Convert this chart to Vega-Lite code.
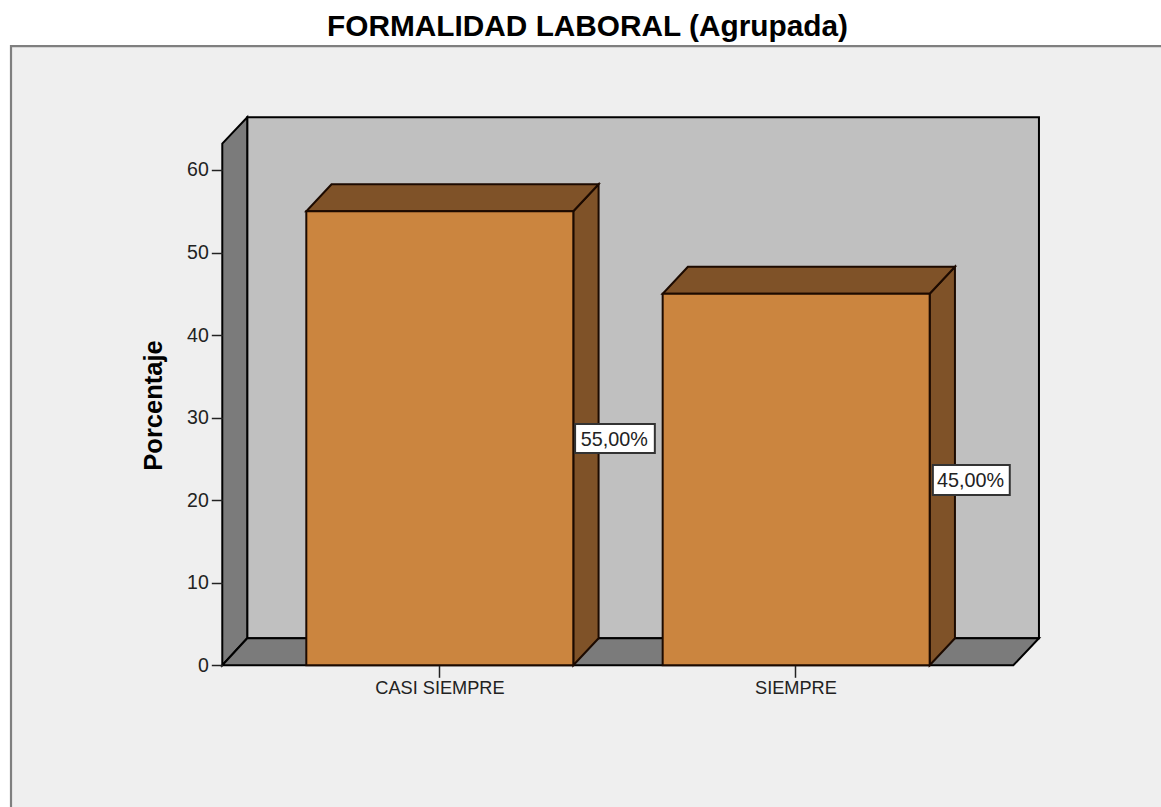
{
"$schema":"https://vega.github.io/schema/vega-lite/v6.json",
"width":1161,"height":807,"padding":0,"autosize":{"type":"none"},"background":"#ffffff",
"view":{"stroke":null},
"title":{"text":"FORMALIDAD LABORAL (Agrupada)","font":"Liberation Sans","fontSize":29.8,"fontWeight":"bold","color":"#000000","anchor":"middle","offset":-42,"dx":7},
"datasets":{
"panel":[{"x0":-59.35,"x1":300,"y0":75,"y1":-40}],
"wall":[{"x0":7,"x1":229.4,"y0":3.27,"y1":66.38}],
"leftwall":[{"x":0,"low":0,"high":63.2},{"x":7,"low":3.27,"high":66.38}],
"floor":[{"y":0,"left":0,"right":222.2},{"y":3.27,"left":7,"right":229.4}],
"bars":[{"categoria":"CASI SIEMPRE","x0":23.6,"x1":98.6,"porcentaje":55},{"categoria":"SIEMPRE","x0":123.7,"x1":198.7,"porcentaje":45}],
"tops":[{"categoria":"CASI SIEMPRE","y":55,"left":23.6,"right":98.6},{"categoria":"CASI SIEMPRE","y":58.27,"left":30.7,"right":105.7},{"categoria":"SIEMPRE","y":45,"left":123.7,"right":198.7},{"categoria":"SIEMPRE","y":48.27,"left":130.8,"right":205.8}],
"sides":[{"categoria":"CASI SIEMPRE","x":98.6,"low":0,"high":55},{"categoria":"CASI SIEMPRE","x":105.7,"low":3.27,"high":58.27},{"categoria":"SIEMPRE","x":198.7,"low":0,"high":45},{"categoria":"SIEMPRE","x":205.8,"low":3.27,"high":48.27}],
"labels":[{"texto":"55,00%","x0":99.1,"x1":121.5,"y0":25.72,"y1":29.23,"xc":110.1,"yc":27.3},{"texto":"45,00%","x0":199.6,"x1":221.2,"y0":20.63,"y1":24.26,"xc":210.2,"yc":22.3}]
},
"layer":[
{"data":{"name":"panel"},"mark":{"type":"rect","fill":"#efefef","stroke":"#7f7f7f","strokeWidth":2.2,"clip":true},
"encoding":{
"x":{"field":"x0","type":"quantitative","scale":{"domain":[-62.44,263.68],"nice":false,"zero":false},
"axis":{"values":[61,161],"labelExpr":"datum.value==61?'CASI SIEMPRE':'SIEMPRE'","orient":"bottom","offset":-141.7,"domain":false,"grid":false,"title":null,"tickSize":12,"tickWidth":1.5,"tickColor":"#222222","labelFont":"Liberation Sans","labelFontSize":18.2,"labelColor":"#222222","labelPadding":2,"zindex":1,"labelFlush":false,"labelOverlap":false}},
"x2":{"field":"x1"},
"y":{"field":"y0","type":"quantitative","scale":{"domain":[-17.17,80.59],"nice":false,"zero":false},
"axis":{"values":[0,10,20,30,40,50,60],"orient":"left","offset":-222.3,"domain":false,"grid":false,"title":"Porcentaje","titleFont":"Liberation Sans","titleFontSize":25.5,"titleFontWeight":"bold","titleColor":"#000000","titleX":-69,"titleY":405,"titleAngle":-90,"titleAlign":"center","titleBaseline":"middle","tickSize":11,"tickWidth":1.5,"tickColor":"#222222","labelFont":"Liberation Sans","labelFontSize":19.5,"labelColor":"#222222","labelPadding":3,"zindex":1,"labelFlush":false,"labelOverlap":false}},
"y2":{"field":"y1"}}},
{"data":{"name":"wall"},"mark":{"type":"rect","fill":"#c0c0c0","stroke":"#000000","strokeWidth":2},
"encoding":{"x":{"field":"x0","type":"quantitative"},"x2":{"field":"x1"},"y":{"field":"y0","type":"quantitative"},"y2":{"field":"y1"}}},
{"data":{"name":"leftwall"},"mark":{"type":"area","fill":"#7b7b7b","stroke":"#000000","strokeWidth":2,"orient":"vertical"},
"encoding":{"x":{"field":"x","type":"quantitative"},"y":{"field":"low","type":"quantitative"},"y2":{"field":"high"}}},
{"data":{"name":"floor"},"mark":{"type":"area","fill":"#7b7b7b","stroke":"#000000","strokeWidth":2,"orient":"horizontal"},
"encoding":{"y":{"field":"y","type":"quantitative"},"x":{"field":"left","type":"quantitative"},"x2":{"field":"right"}}},
{"data":{"name":"sides"},"mark":{"type":"area","fill":"#7f5228","stroke":"#1c0a00","strokeWidth":2,"orient":"vertical"},
"encoding":{"x":{"field":"x","type":"quantitative"},"y":{"field":"low","type":"quantitative"},"y2":{"field":"high"},"detail":{"field":"categoria"}}},
{"data":{"name":"tops"},"mark":{"type":"area","fill":"#7f5228","stroke":"#1c0a00","strokeWidth":2,"orient":"horizontal"},
"encoding":{"y":{"field":"y","type":"quantitative"},"x":{"field":"left","type":"quantitative"},"x2":{"field":"right"},"detail":{"field":"categoria"}}},
{"data":{"name":"bars"},"mark":{"type":"rect","fill":"#cb853f","stroke":"#1c0a00","strokeWidth":2},
"encoding":{"x":{"field":"x0","type":"quantitative"},"x2":{"field":"x1"},"y":{"field":"porcentaje","type":"quantitative"},"y2":{"datum":0}}},
{"data":{"name":"labels"},"mark":{"type":"rect","fill":"#ffffff","stroke":"#333333","strokeWidth":2},
"encoding":{"x":{"field":"x0","type":"quantitative"},"x2":{"field":"x1"},"y":{"field":"y0","type":"quantitative"},"y2":{"field":"y1"}}},
{"data":{"name":"labels"},"mark":{"type":"text","font":"Liberation Sans","fontSize":19.8,"color":"#222222","align":"center","baseline":"middle"},
"encoding":{"x":{"field":"xc","type":"quantitative"},"y":{"field":"yc","type":"quantitative"},"text":{"field":"texto"}}}
]
}
